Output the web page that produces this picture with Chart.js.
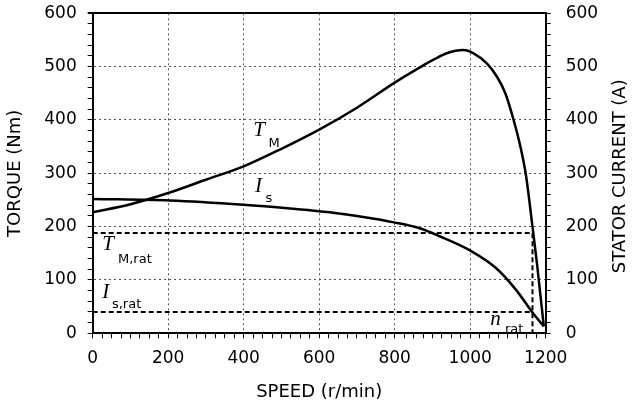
<!DOCTYPE html>
<html>
<head>
<meta charset="utf-8">
<script src="https://cdn.jsdelivr.net/npm/chart.js@4"></script>
<style>
  html, body { margin: 0; padding: 0; background: #fff; }
</style>
</head>
<body>
<canvas id="myChart" width="635" height="407"></canvas>
<script>
// motor torque T_M vs speed
const tmSpeed = [0, 100, 200, 300, 400, 500, 600, 700, 800, 868, 903, 938, 981, 1009, 1044, 1071, 1093, 1115, 1133, 1148, 1165, 1177, 1195];
const tmTorque = [227, 242, 263, 288, 313, 346, 382, 423, 470, 499, 513, 525, 531, 525, 506, 481, 450, 400, 350, 295, 200, 130, 13];

// stator current I_s vs speed
const isSpeed = [0, 205, 399, 523, 628, 717, 798, 866, 919, 998, 1069, 1122, 1166, 1195];
const isCurrent = [252, 249, 241, 234, 227, 218, 208, 197, 182, 156, 122, 81, 38, 13];

// rated values
const ratSpeed = 1165;
const ratTorque = 188;
const ratCurrent = 40;

const ink = "#000";
const gridInk = "#555";
const clear = "rgba(0,0,0,0)";
const tickFont = { family: "DejaVu Sans", size: 17 };
const titleFont = { family: "DejaVu Sans", size: 18 };

function pts(xs, ys) {
  return xs.map((x, i) => ({ x: x, y: ys[i] }));
}

// curve labels, in data coordinates
const notes = [
  { x: 425, y: 370, axis: "y", text: "T", style: "serif" },
  { x: 466, y: 349, axis: "y", text: "M", style: "sub" },
  { x: 430, y: 265, axis: "y", text: "I", style: "serif" },
  { x: 458, y: 246, axis: "y", text: "s", style: "sub" },
  { x: 25, y: 156, axis: "y", text: "T", style: "serif" },
  { x: 67, y: 132, axis: "y", text: "M,rat", style: "sub" },
  { x: 25, y: 66, axis: "y", text: "I", style: "serif" },
  { x: 51, y: 47, axis: "y", text: "s,rat", style: "sub" },
  { x: 1053, y: 16, axis: "y", text: "n", style: "serif" },
  { x: 1092, y: 1, axis: "y", text: "rat", style: "sub" },
];

const curveLabels = {
  id: "curveLabels",
  afterDraw(chart) {
    const ctx = chart.ctx;
    const xs = chart.scales.x;
    ctx.save();
    ctx.fillStyle = ink;
    ctx.textBaseline = "alphabetic";
    ctx.textAlign = "left";
    notes.forEach((n) => {
      ctx.font = n.style === "serif"
        ? "italic 21px 'Liberation Serif'"
        : "13px 'DejaVu Sans'";
      ctx.fillText(n.text, xs.getPixelForValue(n.x), chart.scales[n.axis].getPixelForValue(n.y));
    });
    // right axis title reads bottom to top
    const area = chart.chartArea;
    ctx.translate(620, (area.top + area.bottom) / 2 + 3);
    ctx.rotate(-Math.PI / 2);
    ctx.textAlign = "center";
    ctx.textBaseline = "middle";
    ctx.font = "18px 'DejaVu Sans'";
    ctx.fillText("STATOR CURRENT (A)", 0, 0);
    ctx.restore();
  },
};

function yGridColor(c) {
  const v = c.tick.value;
  if (v === 600) return ink;
  return v % 100 === 0 && v !== 0 ? gridInk : clear;
}

// fixed frame: plot spans y 13.3 .. 333.3
function fitY(width) {
  return (s) => {
    s.width = width;
    s.paddingTop = 13.3;
    s.paddingBottom = 0;
  };
}

const data = {
  datasets: [
    {
      label: "T_M",
      data: pts(tmSpeed, tmTorque),
      yAxisID: "y",
      borderColor: ink,
      borderWidth: 2.5,
      pointRadius: 0,
      cubicInterpolationMode: "monotone",
    },
    {
      label: "I_s",
      data: pts(isSpeed, isCurrent),
      yAxisID: "y2",
      borderColor: ink,
      borderWidth: 2.5,
      pointRadius: 0,
      cubicInterpolationMode: "monotone",
    },
    {
      label: "T_M,rat",
      data: pts([0, ratSpeed, ratSpeed], [ratTorque, ratTorque, 0]),
      yAxisID: "y",
      borderColor: ink,
      borderWidth: 2,
      borderDash: [5, 3],
      pointRadius: 0,
    },
    {
      label: "I_s,rat",
      data: pts([0, ratSpeed], [ratCurrent, ratCurrent]),
      yAxisID: "y2",
      borderColor: ink,
      borderWidth: 2,
      borderDash: [5, 3],
      pointRadius: 0,
    },
  ],
};

const config = {
  type: "line",
  data: data,
  options: {
    responsive: false,
    animation: false,
    layout: { padding: 0 },
    plugins: { legend: { display: false }, tooltip: { enabled: false } },
    scales: {
      x: {
        type: "linear",
        position: "bottom",
        min: 0,
        max: 1200,
        afterFit: (s) => { s.height = 73.7; },
        ticks: {
          stepSize: 25,
          maxTicksLimit: 100,
          autoSkip: false,
          maxRotation: 0,
          padding: 10,
          color: ink,
          font: tickFont,
          callback: (v) => (v % 200 === 0 ? v : ""),
        },
        grid: {
          color: (c) => {
            const v = c.tick.value;
            return v % 200 === 0 && v !== 0 && v !== 1200 ? gridInk : clear;
          },
          tickColor: ink,
          tickLength: 5,
          lineWidth: 1,
        },
        border: { color: ink, width: 2, dash: [2, 3] },
        title: {
          display: true,
          text: "SPEED (r/min)",
          color: ink,
          font: titleFont,
          padding: { top: 0, bottom: 4 },
        },
      },
      y: {
        type: "linear",
        position: "left",
        min: 0,
        max: 600,
        afterFit: fitY(92.7),
        ticks: {
          stepSize: 20,
          maxTicksLimit: 100,
          autoSkip: false,
          padding: 11,
          color: ink,
          font: tickFont,
          callback: (v) => (v % 100 === 0 ? v : ""),
        },
        grid: {
          color: yGridColor,
          lineWidth: (c) => (c.tick.value === 600 ? 2 : 1),
          tickColor: ink,
          tickLength: 5,
        },
        border: {
          color: ink,
          width: 2,
          dash: (c) => (c.tick && c.tick.value === 600 ? [] : [2, 3]),
        },
        title: {
          display: true,
          text: "TORQUE (Nm)",
          color: ink,
          font: titleFont,
          padding: { top: 5, bottom: 0 },
        },
      },
      y2: {
        type: "linear",
        position: "right",
        min: 0,
        max: 600,
        afterFit: fitY(89.3),
        ticks: {
          stepSize: 20,
          maxTicksLimit: 100,
          autoSkip: false,
          padding: 15,
          color: ink,
          font: tickFont,
          callback: (v) => (v % 100 === 0 ? v : ""),
        },
        grid: {
          drawOnChartArea: false,
          tickColor: ink,
          tickLength: 5,
        },
        border: { color: ink, width: 2 },
      },
    },
  },
  plugins: [curveLabels],
};

const myChart = new Chart(document.getElementById("myChart"), config);
</script>
</body>
</html>
